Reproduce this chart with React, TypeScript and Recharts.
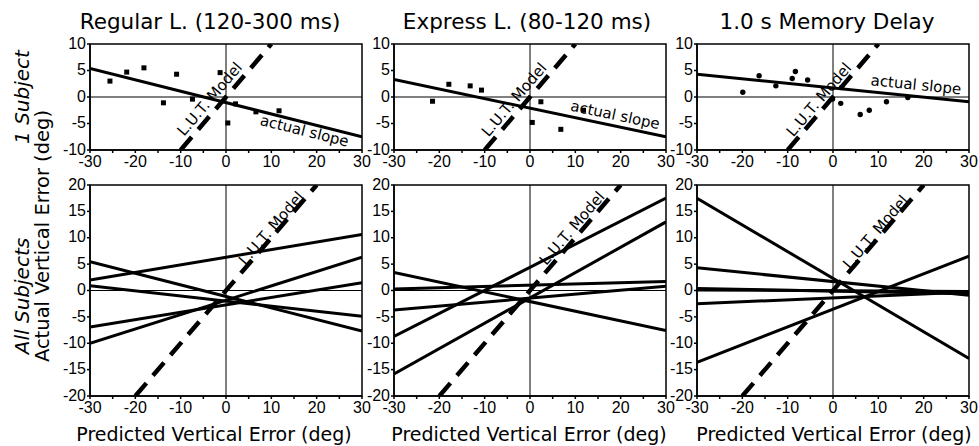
import React from 'react'
import { ScatterChart, Scatter, XAxis, YAxis, ReferenceLine, ReferenceArea, ReferenceDot } from 'recharts'

// titles / ticks
const panelTitles = ['Regular L. (120-300 ms)', 'Express L. (80-120 ms)', '1.0 s Memory Delay']
const xTicks = [-30, -25, -20, -15, -10, -5, 0, 5, 10, 15, 20, 25, 30]
const yTicksOne = [-10, -5, 0, 5, 10]
const yTicksAll = [-20, -15, -10, -5, 0, 5, 10, 15, 20]
const lineEndsX = [-30, 30]

// 1 subject: single trials (predicted, actual)
const regularX = [-25.6, -21.9, -18.1, -13.8, -10.9, -7.4, -1.3, 0.4, 2.1, 6.6, 11.7]
const regularY = [3.0, 4.7, 5.5, -1.1, 4.3, -0.4, 4.6, -4.9, -1.3, -2.8, -2.6]
const expressX = [-21.5, -17.9, -13.2, -10.7, 0.5, 2.4, 6.8, 11.8]
const expressY = [-0.8, 2.4, 2.1, 1.3, -4.8, -0.9, -6.1, -2.5]
const memoryX = [-19.9, -16.3, -12.6, -9.0, -8.3, -5.6, -0.1, 1.9, 1.7, 6.0, 8.0, 11.8, 16.5]
const memoryY = [0.9, 4.0, 2.1, 3.5, 4.8, 3.2, -0.4, 1.8, -1.2, -3.3, -2.5, -0.9, -0.1]

// 1 subject: fitted "actual slope", value at x=-30 and x=30
const regularFit = [5.4, -7.5]
const expressFit = [3.3, -7.5]
const memoryFit = [4.3, -0.9]

// all subjects: one fitted line each, value at x=-30 and at x=30
const regularAllStart = [2.0, 5.45, 0.9, -6.9, -10.0]
const regularAllEnd = [10.6, -7.7, -4.9, 1.45, 6.3]
const expressAllStart = [3.4, 0.3, -3.7, -8.7, -15.8]
const expressAllEnd = [-7.6, 1.7, 0.8, 17.5, 13.0]
const memoryAllStart = [17.5, 4.3, 0.4, 0.1, -2.5, -13.6]
const memoryAllEnd = [-12.9, -0.9, -0.6, -0.2, -0.3, 6.5]

// L.U.T. model: actual = predicted (drawn inside the y range)
const lutOneX = [-10, 10]
const lutAllX = [-20, 20]

const FONT = '"DejaVu Sans", Verdana, sans-serif'
const TICK_FONT = '"Liberation Sans", Arial, sans-serif'
const PLOT_W = 272
const Y_AXIS_W = 40
const M_TOP = 8
const M_RIGHT = 10
const X_AXIS_H = 28
const panelLeft = [90, 394, 697]
const rows = [
  { top: 44, h: 106, max: 10, ticks: yTicksOne },
  { top: 185, h: 211, max: 20, ticks: yTicksAll },
]

const toPoints = (xs: number[], ys: number[]) => xs.map((x, i) => ({ x, y: ys[i] }))

const noShape = () => <g />
const square = (p: any) => <rect x={p.cx - 2.5} y={p.cy - 2.5} width={5} height={5} fill="#000" />
const dot = (p: any) => <circle cx={p.cx} cy={p.cy} r={2.7} fill="#000" />

const rotatedText = (text: string, angle: number) => (props: any) => {
  const vb = props.viewBox || {}
  const x = vb.x + (vb.width || 0) / 2
  const y = vb.y + (vb.height || 0) / 2
  return (
    <text x={x} y={y} transform={`rotate(${angle} ${x} ${y})`} textAnchor="middle" dominantBaseline="central"
      fontSize={15} fontFamily={FONT} fill="#000">{text}</text>
  )
}

type PanelProps = {
  col: number
  row: number
  points?: { x: number; y: number }[]
  pointShape?: any
  fit?: number[]
  lines?: { start: number[]; end: number[] }
  lutX: number[]
  slopeAt?: number[]
  lutAt: number[]
}

function Panel({ col, row, points, pointShape, fit, lines, lutX, slopeAt, lutAt }: PanelProps) {
  const r = rows[row]
  const w = Y_AXIS_W + PLOT_W + M_RIGHT
  const h = M_TOP + r.h + X_AXIS_H
  const kx = PLOT_W / 60
  const ky = r.h / (2 * r.max)
  const lutAngle = -Math.atan(ky / kx) * 180 / Math.PI
  const fitAngle = fit ? -Math.atan(((fit[1] - fit[0]) / 60) * ky / kx) * 180 / Math.PI : 0
  const lineSeries = lines ? lines.start.map((s, i) => toPoints(lineEndsX, [s, lines.end[i]])) : []

  return (
    <div style={{ position: 'absolute', left: panelLeft[col] - Y_AXIS_W, top: r.top - M_TOP }}>
      <ScatterChart width={w} height={h} margin={{ top: M_TOP, right: M_RIGHT, bottom: 0, left: 0 }}>
        <XAxis type="number" dataKey="x" domain={[-30, 30]} ticks={xTicks} interval={0} allowDataOverflow
          tickFormatter={(v: number) => (v % 10 === 0 ? String(v) : '')} height={X_AXIS_H} tickSize={3} tickMargin={3}
          tick={{ fontSize: 16, fill: '#000', fontFamily: TICK_FONT }}
          axisLine={{ stroke: '#000', strokeWidth: 1.5 }} tickLine={{ stroke: '#000', strokeWidth: 1.5 }} />
        <YAxis type="number" dataKey="y" domain={[-r.max, r.max]} ticks={r.ticks} interval={0} allowDataOverflow
          width={Y_AXIS_W} tickSize={3} tickMargin={1}
          tick={{ fontSize: 16, fill: '#000', fontFamily: TICK_FONT, dy: -1 }}
          axisLine={{ stroke: '#000', strokeWidth: 1.5 }} tickLine={{ stroke: '#000', strokeWidth: 1.5 }} />
        <ReferenceArea x1={-30} x2={30} y1={-r.max} y2={r.max} fill="none" stroke="#000" strokeWidth={1.5} ifOverflow="visible" />
        <ReferenceLine x={0} stroke="#000" strokeWidth={1} />
        <ReferenceLine y={0} stroke="#000" strokeWidth={1} />
        <Scatter data={toPoints(lutX, lutX)} fill="#000" shape={noShape} isAnimationActive={false}
          line={{ stroke: '#000', strokeWidth: 4.5, strokeDasharray: '17 10' }} />
        {fit && (
          <Scatter data={toPoints(lineEndsX, fit)} fill="#000" shape={noShape} isAnimationActive={false}
            line={{ stroke: '#000', strokeWidth: 3 }} />
        )}
        {lineSeries.map((d, i) => (
          <Scatter key={i} data={d} fill="#000" shape={noShape} isAnimationActive={false}
            line={{ stroke: '#000', strokeWidth: 3 }} />
        ))}
        {points && <Scatter data={points} fill="#000" shape={pointShape} isAnimationActive={false} />}
        {slopeAt && (
          <ReferenceDot x={slopeAt[0]} y={slopeAt[1]} r={0} fill="none" stroke="none"
            label={rotatedText('actual slope', fitAngle)} />
        )}
        <ReferenceDot x={lutAt[0]} y={lutAt[1]} r={0} fill="none" stroke="none"
          label={rotatedText('L.U.T. Model', lutAngle)} />
      </ScatterChart>
    </div>
  )
}

export default function App() {
  const titleX = [210, 527, 827]
  const xLabelX = [214, 529, 834]
  return (
    <div style={{ position: 'absolute', left: 0, top: 0, width: 979, height: 446, background: '#fff', overflow: 'hidden' }}>
      <Panel col={0} row={0} points={toPoints(regularX, regularY)} pointShape={square} fit={regularFit}
        lutX={lutOneX} slopeAt={[17.3, -6.4]} lutAt={[-3.6, -0.4]} />
      <Panel col={1} row={0} points={toPoints(expressX, expressY)} pointShape={square} fit={expressFit}
        lutX={lutOneX} slopeAt={[18.8, -3.4]} lutAt={[-3.5, -0.5]} />
      <Panel col={2} row={0} points={toPoints(memoryX, memoryY)} pointShape={dot} fit={memoryFit}
        lutX={lutOneX} slopeAt={[18.3, 2.3]} lutAt={[-3.1, -0.5]} />
      <Panel col={0} row={1} lines={{ start: regularAllStart, end: regularAllEnd }} lutX={lutAllX} lutAt={[10.0, 11.8]} />
      <Panel col={1} row={1} lines={{ start: expressAllStart, end: expressAllEnd }} lutX={lutAllX} lutAt={[9.3, 11.8]} />
      <Panel col={2} row={1} lines={{ start: memoryAllStart, end: memoryAllEnd }} lutX={lutAllX} lutAt={[9.4, 11.1]} />
      <svg width={979} height={446} style={{ position: 'absolute', left: 0, top: 0, pointerEvents: 'none' }}>
        {panelTitles.map((t, i) => (
          <text key={t} x={titleX[i]} y={29} textAnchor="middle" fontSize={21.5} fontFamily={FONT} fill="#000">{t}</text>
        ))}
        {xLabelX.map((x) => (
          <text key={x} x={x} y={441} textAnchor="middle" fontSize={19} fontFamily={FONT} fill="#000">Predicted Vertical Error (deg)</text>
        ))}
        <text x={29} y={97} transform="rotate(-90 29 97)" textAnchor="middle" fontSize={20} fontStyle="italic" fontFamily={FONT} fill="#000">1 Subject</text>
        <text x={29} y={296} transform="rotate(-90 29 296)" textAnchor="middle" fontSize={20} fontStyle="italic" fontFamily={FONT} fill="#000">All Subjects</text>
        <text x={49} y={236} transform="rotate(-90 49 236)" textAnchor="middle" fontSize={19.5} fontFamily={FONT} fill="#000">Actual Vertical Error (deg)</text>
      </svg>
    </div>
  )
}
